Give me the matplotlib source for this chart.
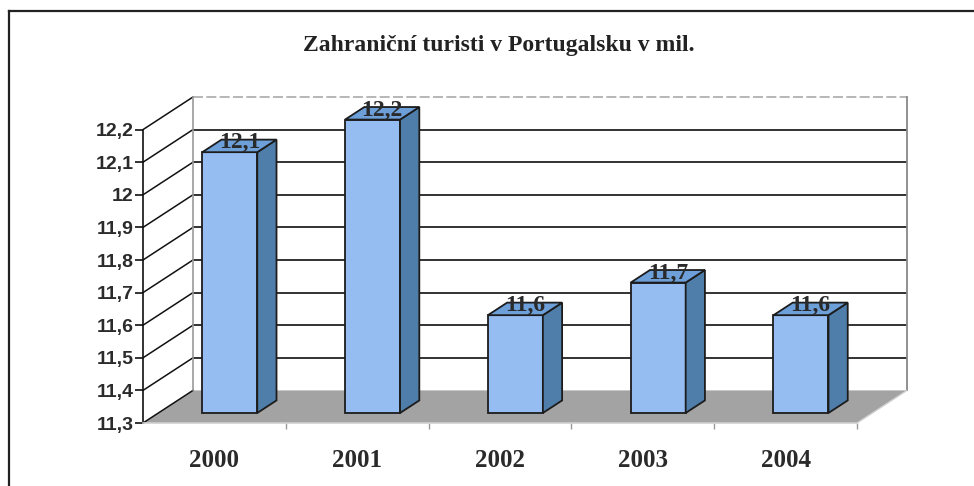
import numpy as np
import matplotlib.pyplot as plt
from matplotlib.patches import Polygon
from matplotlib.lines import Line2D

years = ['2000', '2001', '2002', '2003', '2004']
tourists = [12.1, 12.2, 11.6, 11.7, 11.6]
yticks = [11.3, 11.4, 11.5, 11.6, 11.7, 11.8, 11.9, 12.0, 12.1, 12.2]
title = 'Zahraniční turisti v Portugalsku v mil.'

# oblique "3d" look: depth offset in data units
ymin, ymax = 11.3, 12.2
ddx, ddy = 0.35, 0.1
bw = 0.385
d0, d1 = 0.3075, 0.6925

front = '#95bdf1'
side = '#4f7eab'
top = '#6d9fd9'
edge = '#1c1c1c'
txt = '#2b2b2b'

fig = plt.figure(figsize=(9.74, 4.86), dpi=100)
ax = fig.add_axes([143/974, (486-423)/486, 764/974, (423-97)/486])
ax.set_xlim(-0.5, 4.5 + ddx)
ax.set_ylim(ymin, ymax + ddy)

# outer frame (top and left only)
fig.add_artist(Line2D([9/974, 1], [1-11/486, 1-11/486], color='#222', lw=1.6))
fig.add_artist(Line2D([9/974, 9/974], [0, 1-11/486], color='#222', lw=1.6))

# floor
ax.add_patch(Polygon([(-0.5, ymin), (4.5, ymin), (4.5+ddx, ymin+ddy), (-0.5+ddx, ymin+ddy)],
                     closed=True, fc='#a3a3a3', ec='none', zorder=1))

# left wall diagonals and back wall gridlines
for v in yticks:
    ax.plot([-0.5, -0.5+ddx], [v, v+ddy], color='#111', lw=1.1, zorder=2, clip_on=False)
    if ymin < v < ymax:
        ax.plot([-0.5+ddx, 4.5+ddx], [v+ddy, v+ddy], color='#222', lw=1.3, zorder=2)
ax.plot([-0.5+ddx, 4.5+ddx], [ymax+ddy, ymax+ddy], color='#aaa', lw=1.2, ls=(0, (6, 2)), zorder=2, clip_on=False)
ax.plot([-0.5+ddx, -0.5+ddx], [ymin+ddy, ymax+ddy], color='#999', lw=1.2, zorder=2, clip_on=False)
ax.plot([4.5+ddx, 4.5+ddx], [ymin+ddy, ymax+ddy], color='#888', lw=1.3, zorder=2, clip_on=False)
ax.plot([4.5, 4.5+ddx], [ymin, ymin+ddy], color='#cfcfcf', lw=1.0, zorder=2)

# bars
for i, v in enumerate(tourists):
    x0 = i - bw/2 + d0*ddx
    x1 = i + bw/2 + d0*ddx
    yb = ymin + d0*ddy
    yt = v + d0*ddy
    dx = (d1-d0)*ddx
    dy = (d1-d0)*ddy
    ax.add_patch(Polygon([(x0, yb), (x1, yb), (x1, yt), (x0, yt)], closed=True,
                         fc=front, ec=edge, lw=1.3, zorder=5))
    ax.add_patch(Polygon([(x1, yb), (x1+dx, yb+dy), (x1+dx, yt+dy), (x1, yt)], closed=True,
                         fc=side, ec=edge, lw=1.3, zorder=5))
    ax.add_patch(Polygon([(x0, yt), (x1, yt), (x1+dx, yt+dy), (x0+dx, yt+dy)], closed=True,
                         fc=top, ec=edge, lw=1.3, zorder=5, clip_on=False))
    ax.text(i + (d0+d1)/2*ddx, v + 0.5*ddy + 0.01, f'{v:g}'.replace('.', ','),
            ha='center', va='center', fontsize=17, fontweight='bold',
            family='Liberation Serif', color='#2a2a2a', zorder=6, clip_on=False)

# axes
for s in ['top', 'right']:
    ax.spines[s].set_visible(False)
ax.spines['left'].set_bounds(ymin, ymax)
ax.spines['left'].set_color('#111')
ax.spines['left'].set_linewidth(1.2)
ax.spines['bottom'].set_bounds(-0.5, 4.5)
ax.spines['bottom'].set_color('#d0d0d0')
ax.spines['bottom'].set_linewidth(1.2)
ax.set_facecolor('none')

ax.set_yticks(yticks)
ax.set_yticklabels([f'{v:g}'.replace('.', ',') for v in yticks])
ax.tick_params(axis='y', length=6, width=1.2, color='#111', pad=1, labelsize=14, labelcolor=txt)
for lab in ax.get_yticklabels():
    lab.set_fontweight('bold')
    lab.set_family('Liberation Sans')

ax.set_xticks(range(len(years)))
ax.set_xticklabels(years)
ax.set_xticks(np.arange(0.5, 4.6, 1.0), minor=True)
ax.tick_params(axis='x', which='major', length=0, pad=19, labelsize=18, labelcolor='#2a2a2a')
ax.tick_params(axis='x', which='minor', length=4, width=1, color='#999')
for lab in ax.get_xticklabels():
    lab.set_fontweight('bold')
    lab.set_family('Liberation Serif')

fig.text(499/974, 1-51/486, title, ha='center', va='baseline', fontsize=17,
         fontweight='bold', family='Liberation Serif', color='#222')

fig.savefig('out.png', dpi=100)
